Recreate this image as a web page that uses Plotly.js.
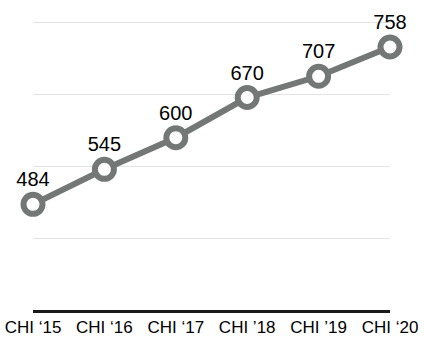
<!DOCTYPE html>
<html>
<head>
<meta charset="utf-8">
<script src="https://cdn.plot.ly/plotly-3.0.1.min.js"></script>
<style>html,body{margin:0;padding:0;background:#fff;}#chart{width:424px;height:352px;}</style>
</head>
<body>
<div id="chart"></div>
<script>
var categories = ["CHI \u201815", "CHI \u201816", "CHI \u201817", "CHI \u201918", "CHI \u201919", "CHI \u201820"];
var values = [484, 545, 600, 670, 707, 758];
var labels = ["484", "545", "600", "670", "707", "758"];

var trace = {
  x: categories,
  y: values,
  text: labels,
  type: "scatter",
  mode: "lines+markers+text",
  textposition: "top center",
  textfont: {family: "Liberation Sans, Arial, sans-serif", size: 20, color: "#000"},
  line: {color: "#737876", width: 6},
  marker: {size: 19, color: "#ffffff", line: {color: "#737876", width: 6}},
  cliponaxis: false,
  hoverinfo: "none"
};

var layout = {
  width: 424,
  height: 352,
  margin: {l: 33, r: 34, t: 20, b: 42},
  paper_bgcolor: "#fff",
  plot_bgcolor: "#fff",
  showlegend: false,
  font: {family: "Liberation Sans, Arial, sans-serif", color: "#000"},
  xaxis: {
    type: "category",
    range: [0, 5],
    showgrid: false,
    zeroline: false,
    showline: true,
    linecolor: "#1a1a1a",
    linewidth: 2.5,
    ticks: "",
    tickfont: {size: 17, color: "#000"},
    fixedrange: true
  },
  yaxis: {
    range: [300, 805],
    tick0: 300,
    dtick: 125,
    showgrid: true,
    gridcolor: "#e3e3e3",
    gridwidth: 1,
    zeroline: false,
    showticklabels: false,
    ticks: "",
    fixedrange: true
  }
};

Plotly.newPlot("chart", [trace], layout, {displayModeBar: false, staticPlot: true});
</script>
</body>
</html>
